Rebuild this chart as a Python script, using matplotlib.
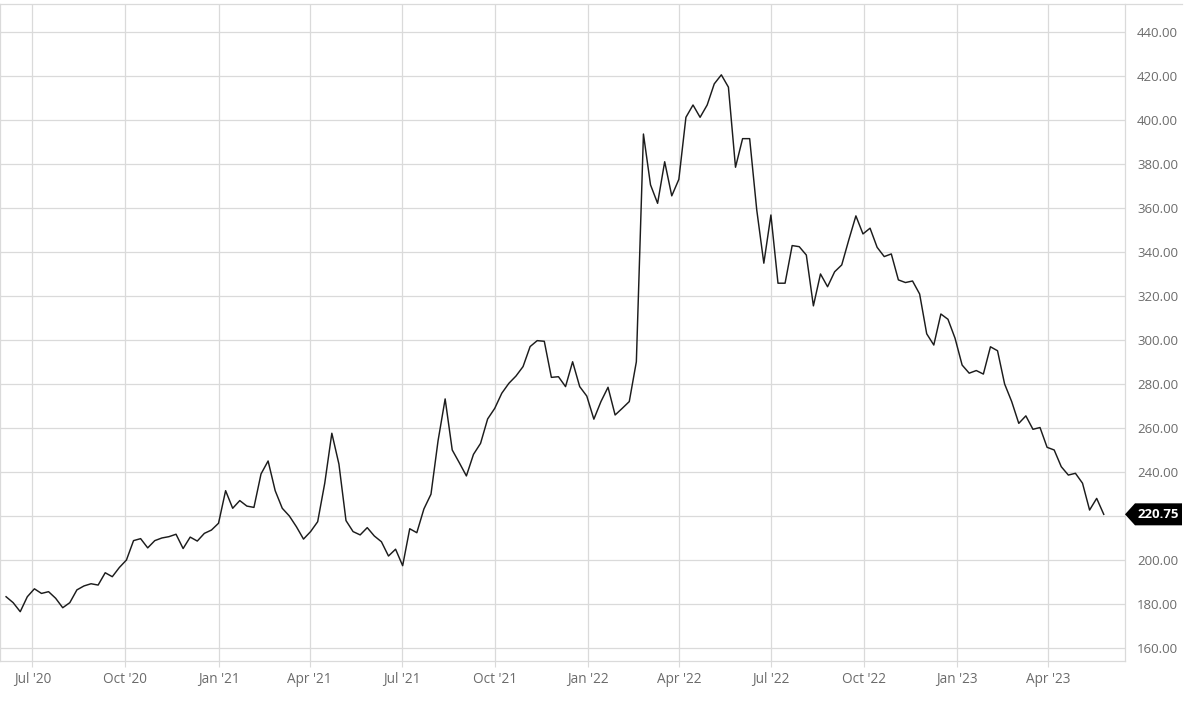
import pandas as pd
import matplotlib.pyplot as plt
import matplotlib.dates as mdates
from matplotlib.patches import Polygon
from matplotlib.lines import Line2D

plt.rcParams['font.family'] = ['Open Sans', 'DejaVu Sans']

# weekly closing values
start_date = '2020-06-05'
prices = [
    183.3, 180.6, 176.5, 183.3, 186.9, 184.8, 185.6, 182.6, 178.3, 180.6,
    186.4, 188.2, 189.2, 188.6, 194.2, 192.4, 196.6, 200.0, 208.8, 209.7,
    205.5, 208.8, 210.0, 210.6, 211.7, 205.2, 210.4, 208.6, 212.1, 213.6,
    216.7, 231.5, 223.5, 227.0, 224.5, 223.9, 239.1, 245.0, 231.5, 223.5,
    220.0, 215.1, 209.5, 212.9, 217.4, 234.9, 257.6, 243.6, 217.9, 212.9,
    211.4, 214.7, 210.9, 208.3, 201.8, 204.9, 197.4, 214.2, 212.4, 223.2,
    229.9, 254.2, 273.2, 250.0, 244.2, 238.2, 248.0, 253.0, 264.1, 268.9,
    275.8, 280.3, 283.6, 287.9, 297.0, 299.7, 299.4, 283.0, 283.3, 278.8,
    290.1, 278.8, 274.5, 264.0, 272.0, 278.5, 265.9, 268.9, 272.0, 290.1,
    393.6, 370.5, 362.1, 381.0, 365.5, 373.0, 401.2, 406.8, 401.2, 406.8,
    416.4, 420.5, 414.9, 378.5, 391.5, 391.5, 359.1, 334.9, 356.8, 325.8,
    325.8, 342.9, 342.4, 338.6, 315.5, 330.0, 324.2, 331.0, 334.1, 345.5,
    356.4, 348.2, 350.8, 342.1, 337.9, 339.1, 327.3, 326.1, 326.8, 320.9,
    302.8, 297.7, 311.8, 309.4, 300.8, 288.6, 284.9, 286.1, 284.5, 296.9,
    295.1, 280.0, 272.0, 262.1, 265.5, 259.4, 260.2, 251.2, 250.0, 242.4,
    238.6, 239.4, 234.9, 222.7, 228.0, 220.75,
]
dates = pd.date_range(start=start_date, periods=len(prices), freq='7D')
y_ticks = list(range(160, 441, 20))

grid_col = '#dadada'
text_col = '#6b6b6b'
last = prices[-1]

fig = plt.figure(figsize=(12, 7.01), dpi=100)
ax = fig.add_axes([0.0, 0.0571, 0.9375, 0.9372])

ax.plot(dates, prices, color='#1c1c1c', lw=1.05, zorder=3)

ax.set_xlim(pd.Timestamp('2020-05-30'), pd.Timestamp('2023-06-16'))
ax.set_ylim(154.1, 452.7)

ax.xaxis.set_major_locator(mdates.MonthLocator(bymonth=[1, 4, 7, 10]))
ax.xaxis.set_major_formatter(mdates.DateFormatter("%b '%y"))
ax.set_yticks(y_ticks)
# the label under the last-value tag is hidden
ax.set_yticklabels(['' if abs(v - last) < 10 else '%.2f' % v for v in y_ticks])

ax.yaxis.tick_right()
ax.grid(True, color=grid_col, lw=0.9)
ax.tick_params(axis='y', length=0, pad=8.6, labelsize=9.5, labelcolor=text_col)
ax.tick_params(axis='x', length=4, color=grid_col, pad=4, labelsize=9.8, labelcolor=text_col)

for side in ['left', 'right', 'bottom']:
    ax.spines[side].set_color(grid_col)
    ax.spines[side].set_linewidth(0.9)
ax.spines['top'].set_visible(False)

# top border spans the label column too
fig.add_artist(Line2D([0, 0.985], [0.9943, 0.9943], color=grid_col, lw=0.9))

# last value tag
tr = ax.get_yaxis_transform()
dx = 1 / 1125
dy = 1 / 2.2
tag = Polygon([(1.0, last), (1.0 + 10 * dx, last + 11 * dy),
               (1.0 + 57 * dx, last + 11 * dy), (1.0 + 57 * dx, last - 11 * dy),
               (1.0 + 10 * dx, last - 11 * dy)],
              closed=True, transform=tr, facecolor='black', edgecolor='none',
              clip_on=False, zorder=5)
ax.add_patch(tag)
ax.text(1.0 + 33.5 * dx, last, '%.2f' % last, transform=tr, color='white',
        fontsize=9.5, fontweight='bold', ha='center', va='center', zorder=6)

fig.savefig('out.png', dpi=100)
